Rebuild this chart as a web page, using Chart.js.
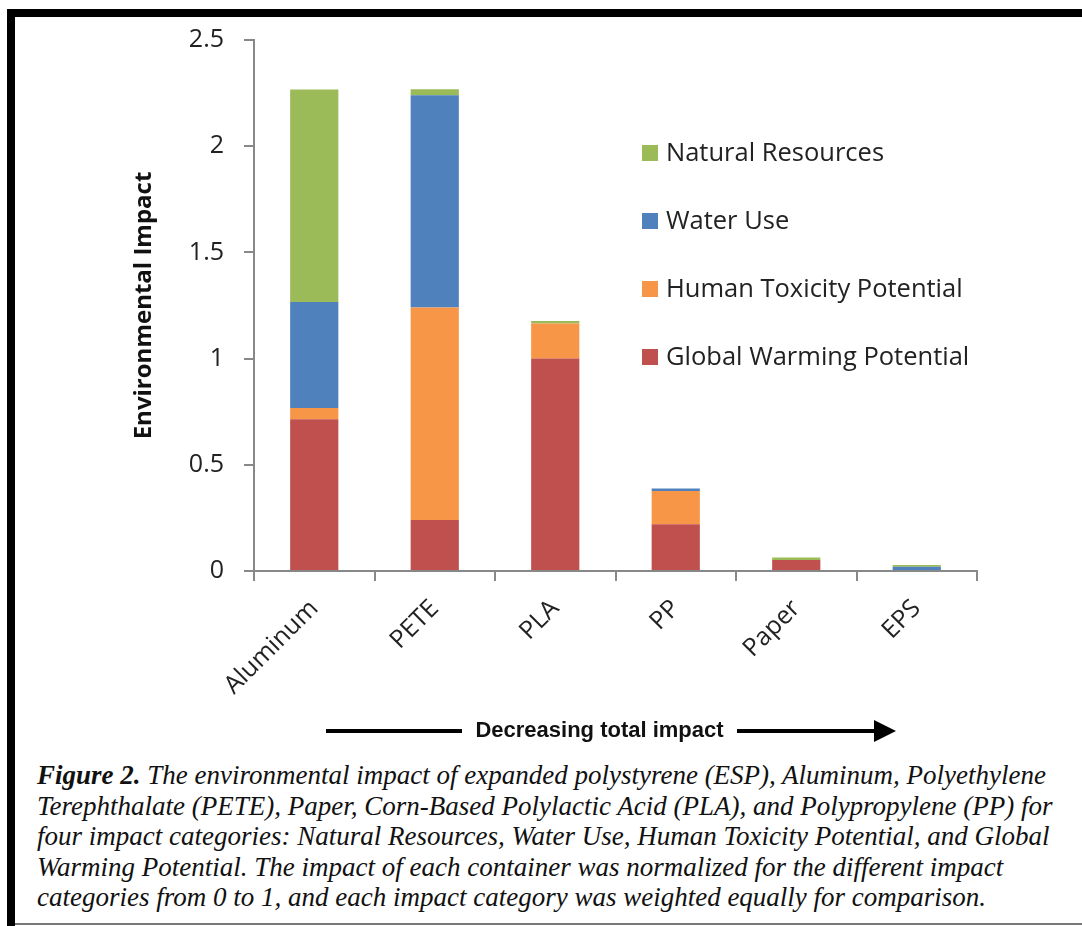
<!DOCTYPE html>
<html>
<head>
<meta charset="utf-8">
<script src="https://cdn.jsdelivr.net/npm/chart.js@4.4.1/dist/chart.umd.min.js"></script>
<style>
    body { margin: 0; background: #fff; }
    #page { position: relative; width: 1082px; height: 926px; overflow: hidden; background: #fff; }
    #chart { position: absolute; left: 0; top: 0; }
    .bar { position: absolute; background: #000; }
    #arrowText {
        position: absolute; left: 462px; width: 275px; top: 717px;
        text-align: center; font: bold 22px "Liberation Sans", Arial, sans-serif; color: #111;
    }
    #arrowHead {
        position: absolute; left: 874px; top: 720px; width: 0; height: 0;
        border-top: 11px solid transparent; border-bottom: 11px solid transparent;
        border-left: 22px solid #000;
    }
    #caption {
        position: absolute; left: 37px; top: 760px;
        font: italic 27px "Liberation Serif", "Times New Roman", serif; color: #111;
        line-height: 30.5px; white-space: nowrap;
    }
</style>
</head>
<body>
<div id="page">
    <canvas id="chart" width="1082" height="760"></canvas>
    <div class="bar" style="left:7px; top:9px; width:1075px; height:8px;"></div>
    <div class="bar" style="left:7px; top:9px; width:8px; height:917px;"></div>
    <div class="bar" style="left:15px; top:923px; width:1067px; height:2px; background:#777;"></div>

    <div class="bar" style="left:326px; top:729px; width:136px; height:4px;"></div>
    <div id="arrowText">Decreasing total impact</div>
    <div class="bar" style="left:737px; top:729px; width:140px; height:4px;"></div>
    <div id="arrowHead"></div>

    <div id="caption">
        <div><b>Figure 2.</b> The environmental impact of expanded polystyrene (ESP), Aluminum, Polyethylene</div>
        <div>Terephthalate (PETE), Paper, Corn-Based Polylactic Acid (PLA), and Polypropylene (PP) for</div>
        <div>four impact categories: Natural Resources, Water Use, Human Toxicity Potential, and Global</div>
        <div>Warming Potential. The impact of each container was normalized for the different impact</div>
        <div>categories from 0 to 1, and each impact category was weighted equally for comparison.</div>
    </div>
</div>

<script>
const containers = ['Aluminum', 'PETE', 'PLA', 'PP', 'Paper', 'EPS'];

const globalWarming = [0.715, 0.24, 1.0, 0.22, 0.052, 0.0];
const humanToxicity = [0.052, 1.0, 0.165, 0.157, 0.0, 0.0];
const waterUse = [0.5, 1.0, 0.0, 0.011, 0.0, 0.02];
const naturalResources = [1.0, 0.028, 0.012, 0.0, 0.011, 0.008];

const yTicks = [0, 0.5, 1, 1.5, 2, 2.5];

// legend drawn inside the plot, top entry = top of stack
const insideLegend = {
    id: 'insideLegend',
    afterDraw(chart) {
        const ctx = chart.ctx;
        const sets = chart.data.datasets.slice().reverse();
        ctx.save();
        ctx.font = '25.5px "Open Sans"';
        ctx.textBaseline = 'middle';
        sets.forEach((ds, i) => {
            const y = 153 + i * 68;
            ctx.fillStyle = ds.backgroundColor;
            ctx.fillRect(642, y - 8, 16, 16);
            ctx.fillStyle = '#222';
            ctx.fillText(ds.label, 666, y + 1);
        });
        ctx.restore();
    }
};

const ctx = document.getElementById('chart').getContext('2d');

new Chart(ctx, {
    type: 'bar',
    data: {
        labels: containers,
        datasets: [
            { label: 'Global Warming Potential', data: globalWarming, backgroundColor: '#C0504D' },
            { label: 'Human Toxicity Potential', data: humanToxicity, backgroundColor: '#F79646' },
            { label: 'Water Use', data: waterUse, backgroundColor: '#4F81BD' },
            { label: 'Natural Resources', data: naturalResources, backgroundColor: '#9BBB59' }
        ]
    },
    options: {
        responsive: false,
        animation: false,
        layout: { padding: { left: 120, top: 40, right: 105, bottom: 0 } },
        datasets: { bar: { barPercentage: 0.4, categoryPercentage: 1.0 } },
        plugins: {
            legend: { display: false },
            tooltip: { enabled: false }
        },
        scales: {
            x: {
                stacked: true,
                afterFit: (scale) => { scale.height = 189; },
                grid: { drawOnChartArea: false, color: '#888', lineWidth: 2, tickLength: 10 },
                border: { color: '#888', width: 2 },
                ticks: {
                    font: { family: 'Open Sans', size: 25 },
                    color: '#222',
                    minRotation: 45,
                    maxRotation: 45,
                    padding: 13
                }
            },
            y: {
                stacked: true,
                min: 0,
                max: 2.5,
                afterFit: (scale) => { scale.width = 134; },
                afterBuildTicks: (scale) => { scale.ticks = yTicks.map(v => ({ value: v })); },
                grid: { drawOnChartArea: false, color: '#888', lineWidth: 2, tickLength: 10 },
                border: { color: '#888', width: 2 },
                ticks: {
                    font: { family: 'Open Sans', size: 25 },
                    color: '#222',
                    padding: 20,
                    callback: (v) => String(v)
                },
                title: {
                    display: true,
                    text: 'Environmental Impact',
                    font: { family: 'Open Sans', size: 24, weight: 'bold' },
                    color: '#111',
                    padding: { top: 10 }
                }
            }
        }
    },
    plugins: [insideLegend]
});
</script>
</body>
</html>
